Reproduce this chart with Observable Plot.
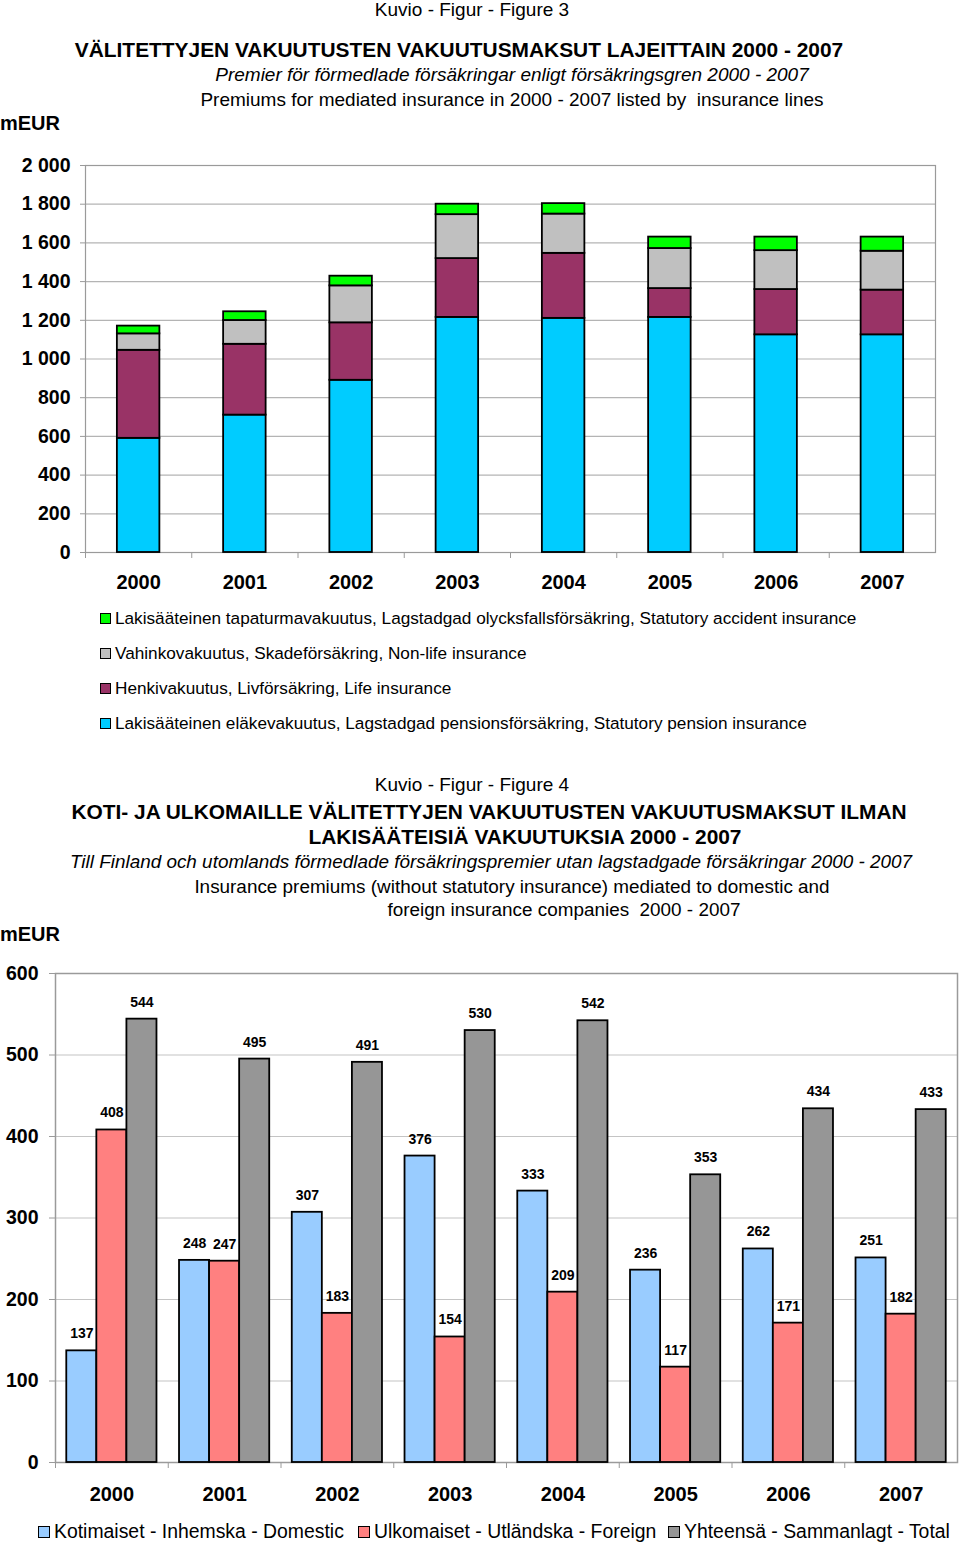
<!DOCTYPE html>
<html>
<head>
<meta charset="utf-8">
<script src="https://cdn.jsdelivr.net/npm/d3@7"></script>
<script src="https://cdn.jsdelivr.net/npm/@observablehq/plot@0.6"></script>
<style>
  body { margin: 0; background: #fff; font-family: "Liberation Sans", Arial, sans-serif; color: #000; }
  #page { position: relative; width: 960px; height: 1546px; overflow: hidden; background: #fff; }
  .t { position: absolute; white-space: pre; line-height: 24px; height: 24px; }
  .c { width: 960px; text-align: center; }
  .sw { display: inline-block; box-sizing: border-box; border: 1.5px solid #000; vertical-align: middle; }
  .chart { position: absolute; left: 0; }
</style>
</head>
<body>
<div id="page"></div>
<script>
// ---------- Figure 3 data ----------
const years = ["2000", "2001", "2002", "2003", "2004", "2005", "2006", "2007"];
const pension  = [590, 710, 890, 1215, 1210, 1215, 1125, 1125];
const life     = [455, 366, 297, 304, 336, 149, 234, 231];
const nonlife  = [85, 123, 191, 227, 203, 207, 201, 201];
const accident = [40, 45, 50, 54, 54, 59, 70, 73];
const series1 = [
  "Lakisääteinen eläkevakuutus, Lagstadgad pensionsförsäkring, Statutory pension insurance",
  "Henkivakuutus, Livförsäkring, Life insurance",
  "Vahinkovakuutus, Skadeförsäkring, Non-life insurance",
  "Lakisääteinen tapaturmavakuutus, Lagstadgad olycksfallsförsäkring, Statutory accident insurance"
];
const colors1 = ["#00CCFF", "#993366", "#C0C0C0", "#00FF00"];
const yTicks1 = [0, 200, 400, 600, 800, 1000, 1200, 1400, 1600, 1800, 2000];

// ---------- Figure 4 data ----------
const domestic = [137, 248, 307, 376, 333, 236, 262, 251];
const foreign  = [408, 247, 183, 154, 209, 117, 171, 182];
const total    = [544, 495, 491, 530, 542, 353, 434, 433];
const series2 = ["Kotimaiset - Inhemska - Domestic", "Ulkomaiset - Utländska - Foreign", "Yhteensä - Sammanlagt - Total"];
const colors2 = ["#99CCFF", "#FF8080", "#969696"];
const yTicks2 = [0, 100, 200, 300, 400, 500, 600];

const page = document.getElementById("page");
function addText(txt, {center, left, y, size, bold, italic}) {
  const d = document.createElement("div");
  d.className = "t" + (center !== undefined ? " c" : "");
  d.textContent = txt;
  d.style.top = (y - 12) + "px";
  if (center !== undefined) d.style.left = (center - 480) + "px";
  else d.style.left = left + "px";
  d.style.fontSize = size + "px";
  if (bold) d.style.fontWeight = "bold";
  if (italic) d.style.fontStyle = "italic";
  page.appendChild(d);
  return d;
}

// ---------- Figure 3 titles ----------
addText("Kuvio - Figur - Figure 3", {center: 472, y: 10, size: 19});
addText("VÄLITETTYJEN VAKUUTUSTEN VAKUUTUSMAKSUT LAJEITTAIN 2000 - 2007", {center: 459, y: 50, size: 20.9, bold: true});
addText("Premier för förmedlade försäkringar enligt försäkringsgren 2000 - 2007", {center: 512, y: 75, size: 19, italic: true});
addText("Premiums for mediated insurance in 2000 - 2007 listed by  insurance lines", {center: 512, y: 100, size: 19});
addText("mEUR", {left: 0, y: 123, size: 20, bold: true});

const fmt = d3.formatLocale({thousands: "\u00a0", grouping: [3], decimal: ","}).format(",");

const data1 = [];
years.forEach((yr, i) => {
  data1.push({year: yr, series: series1[0], value: pension[i]});
  data1.push({year: yr, series: series1[1], value: life[i]});
  data1.push({year: yr, series: series1[2], value: nonlife[i]});
  data1.push({year: yr, series: series1[3], value: accident[i]});
});

const chart1 = Plot.plot({
  width: 960, height: 460,
  marginTop: 25, marginBottom: 48, marginLeft: 85, marginRight: 25,
  style: {fontFamily: "'Liberation Sans', Arial, sans-serif", color: "#000", background: "#fff"},
  x: {domain: years, paddingInner: 0.6, paddingOuter: 0.3, round: false, label: null, axis: null},
  y: {domain: [0, 2000], label: null, axis: null},
  color: {domain: series1, range: colors1},
  marks: [
    Plot.gridY(yTicks1, {stroke: "#b4b4b4", strokeOpacity: 1, strokeWidth: 1.2}),
    Plot.frame({stroke: "#9a9a9a", strokeWidth: 1.2}),
    Plot.axisY({ticks: yTicks1, tickFormat: fmt, tickSize: 5, tickPadding: 10, fontSize: 19.5, fontWeight: "bold", stroke: "#9a9a9a", label: null}),
    Plot.axisX({tickSize: 0, tickPadding: 22, fontSize: 20, fontWeight: "bold", label: null}),
    Plot.axisX({tickSize: 6, dx: -53.125, tickFormat: () => "", stroke: "#9a9a9a", label: null}),
    Plot.barY(data1, {x: "year", y: "value", fill: "series", stroke: "#000", strokeWidth: 1.8})
  ]
});
chart1.classList.add("chart");
chart1.style.top = "140px";
page.appendChild(chart1);

// legend 1 (accident on top)
const leg1Order = [3, 2, 1, 0];
const leg1Y = [618, 653, 688, 723];
leg1Order.forEach((k, j) => {
  const d = document.createElement("div");
  d.className = "t";
  d.style.left = "100px";
  d.style.top = (leg1Y[j] - 12) + "px";
  d.style.fontSize = "17.2px";
  const sw = document.createElement("span");
  sw.className = "sw";
  sw.style.width = "11px"; sw.style.height = "11px";
  sw.style.background = colors1[k];
  sw.style.marginRight = "4px";
  sw.style.marginTop = "-2px";
  d.appendChild(sw);
  d.appendChild(document.createTextNode(series1[k]));
  page.appendChild(d);
});

// ---------- Figure 4 titles ----------
addText("Kuvio - Figur - Figure 4", {center: 472, y: 785, size: 19});
addText("KOTI- JA ULKOMAILLE VÄLITETTYJEN VAKUUTUSTEN VAKUUTUSMAKSUT ILMAN", {center: 489, y: 812, size: 20.9, bold: true});
addText("LAKISÄÄTEISIÄ VAKUUTUKSIA 2000 - 2007", {center: 525, y: 837, size: 20.9, bold: true});
addText("Till Finland och utomlands förmedlade försäkringspremier utan lagstadgade försäkringar 2000 - 2007", {center: 491, y: 862, size: 18.9, italic: true});
addText("Insurance premiums (without statutory insurance) mediated to domestic and", {center: 512, y: 887, size: 18.9});
addText("foreign insurance companies  2000 - 2007", {center: 564, y: 910, size: 18.9});
addText("mEUR", {left: 0, y: 934, size: 20, bold: true});

const values2 = [domestic, foreign, total];
const data2 = [];
years.forEach((yr, i) => {
  series2.forEach((s, k) => data2.push({year: yr, series: s, value: values2[k][i]}));
});
const third = 90.2 / 3;
const insets = [
  {insetLeft: 0, insetRight: 2 * third},
  {insetLeft: third, insetRight: third},
  {insetLeft: 2 * third, insetRight: 0}
];
const offsets = [-third, 0, third];

const chart2 = Plot.plot({
  width: 960, height: 565,
  marginTop: 23, marginBottom: 53, marginLeft: 55, marginRight: 3,
  style: {fontFamily: "'Liberation Sans', Arial, sans-serif", color: "#000", background: "#fff"},
  x: {domain: years, paddingInner: 0.2, paddingOuter: 0.1, round: false, label: null, axis: null},
  y: {domain: [0, 600], label: null, axis: null},
  color: {domain: series2, range: colors2},
  marks: [
    Plot.gridY(yTicks2, {stroke: "#c4c4c4", strokeOpacity: 1, strokeWidth: 1.2}),
    Plot.frame({stroke: "#9a9a9a", strokeWidth: 1.5}),
    Plot.axisY({ticks: yTicks2, tickSize: 6, tickPadding: 11, fontSize: 19.5, fontWeight: "bold", stroke: "#9a9a9a", label: null}),
    Plot.axisX({tickSize: 0, tickPadding: 24, fontSize: 20, fontWeight: "bold", label: null}),
    Plot.axisX({tickSize: 6, dx: -56.375, tickFormat: () => "", stroke: "#9a9a9a", label: null}),
    ...series2.map((s, k) => Plot.barY(data2.filter(d => d.series === s), {
      x: "year", y: "value", fill: "series", stroke: "#000", strokeWidth: 1.8, ...insets[k]
    })),
    ...series2.map((s, k) => Plot.text(data2.filter(d => d.series === s), {
      x: "year", y: "value", text: d => String(d.value), dx: offsets[k], dy: -17,
      fontSize: 14, fontWeight: "bold", fill: "#000"
    }))
  ]
});
chart2.classList.add("chart");
chart2.style.top = "950px";
page.appendChild(chart2);

// legend 2
const leg2X = [38, 358, 668];
series2.forEach((s, k) => {
  const d = document.createElement("div");
  d.className = "t";
  d.style.left = leg2X[k] + "px";
  d.style.top = (1531 - 12) + "px";
  d.style.fontSize = "19.4px";
  const sw = document.createElement("span");
  sw.className = "sw";
  sw.style.width = "12px"; sw.style.height = "12px";
  sw.style.background = colors2[k];
  sw.style.marginRight = "4px";
  sw.style.marginTop = "-2px";
  d.appendChild(sw);
  d.appendChild(document.createTextNode(s));
  page.appendChild(d);
});
</script>
</body>
</html>
